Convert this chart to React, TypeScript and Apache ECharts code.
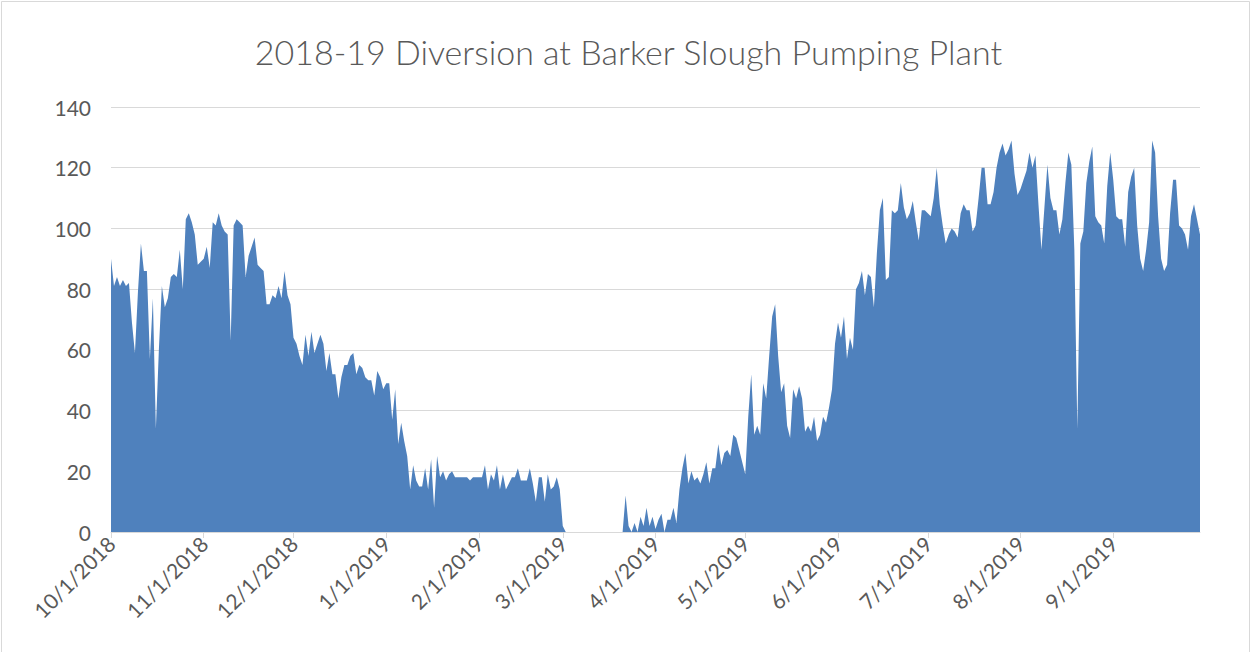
import React, { useEffect, useRef } from "react";
import * as echarts from "echarts";

const title = "2018-19 Diversion at Barker Slough Pumping Plant";

// Daily diversion values, one array per month
const oct2018 = [90, 81, 84, 81, 83, 81, 82, 69, 59, 79, 95, 86, 86, 57, 77, 34, 60, 81, 74, 77, 84, 85, 84, 93, 80, 103, 105, 102, 98, 88, 89];
const nov2018 = [90, 94, 87, 102, 101, 105, 101, 99, 98, 63, 101, 103, 102, 101, 84, 91, 94, 97, 88, 87, 86, 75, 75, 78, 77, 81, 77, 86, 78, 75];
const dec2018 = [64, 62, 58, 55, 65, 58, 66, 59, 62, 65, 62, 53, 59, 52, 52, 44, 51, 55, 55, 58, 59, 52, 55, 54, 51, 50, 50, 45, 53, 51, 47];
const jan2019 = [49, 49, 37, 47, 29, 36, 30, 25, 14, 22, 17, 15, 15, 21, 14, 24, 8, 25, 18, 20, 17, 19, 20, 18, 18, 18, 18, 18, 17, 18, 18];
const feb2019 = [18, 18, 22, 14, 19, 17, 22, 14, 19, 14, 16, 18, 18, 21, 17, 17, 17, 21, 16, 10, 18, 18, 10, 19, 14, 15, 18, 14];
const mar2019 = [2, 0, 0, 0, 0, 0, 0, 0, 0, 0, 0, 0, 0, 0, 0, 0, 0, 0, 0, 0, 0, 12, 2, 0, 3, 0, 5, 2, 8, 2, 5];
const apr2019 = [1, 4, 6, 0, 4, 4, 8, 3, 14, 21, 26, 16, 20, 17, 18, 16, 19, 23, 16, 21, 21, 29, 22, 26, 27, 25, 32, 31, 27, 23];
const may2019 = [19, 38, 52, 32, 35, 32, 49, 44, 58, 71, 75, 58, 46, 49, 35, 31, 47, 44, 48, 44, 33, 35, 33, 38, 30, 32, 38, 36, 41, 47, 62];
const jun2019 = [69, 64, 71, 57, 64, 60, 80, 82, 86, 78, 85, 84, 74, 92, 106, 110, 83, 84, 106, 105, 106, 115, 107, 103, 105, 109, 102, 96, 106, 106];
const jul2019 = [105, 104, 110, 120, 108, 101, 95, 98, 100, 99, 97, 105, 108, 106, 106, 99, 101, 110, 120, 120, 108, 108, 112, 120, 125, 128, 124, 126, 129, 118, 111];
const aug2019 = [113, 116, 119, 125, 120, 124, 108, 93, 107, 121, 110, 106, 106, 98, 103, 115, 125, 121, 93, 34, 95, 99, 115, 122, 127, 104, 102, 101, 95, 114, 125];
const sep2019 = [116, 104, 103, 103, 94, 112, 117, 120, 101, 90, 86, 93, 102, 129, 125, 104, 90, 86, 88, 105, 116, 116, 101, 100, 98, 93, 104, 108, 103, 98];

const yMin = 0;
const yMax = 140;
const yStep = 20;

const values = [
  ...oct2018, ...nov2018, ...dec2018, ...jan2019, ...feb2019, ...mar2019,
  ...apr2019, ...may2019, ...jun2019, ...jul2019, ...aug2019, ...sep2019,
];

const categories: string[] = [];
for (let i = 0; i < values.length; i++) {
  const d = new Date(2018, 9, 1 + i);
  categories.push(`${d.getMonth() + 1}/${d.getDate()}/${d.getFullYear()}`);
}

const isMonthStart = (_i: number, v: string) => v.split("/")[1] === "1";

export default function App() {
  const ref = useRef<HTMLDivElement>(null);
  useEffect(() => {
    document.body.style.margin = "0";
    const chart = echarts.init(ref.current!, null, { renderer: "svg" });
    const font = "Lato, 'Open Sans', sans-serif";
    chart.setOption({
      animation: false,
      backgroundColor: "#ffffff",
      title: {
        text: title,
        left: "center",
        top: 29,
        textStyle: { fontFamily: font, fontSize: 34, fontWeight: 300, color: "#595959" },
      },
      grid: { left: 111, right: 57, top: 107, bottom: 120, containLabel: false },
      xAxis: {
        type: "category",
        data: categories,
        boundaryGap: false,
        axisLine: { show: true, lineStyle: { color: "#d9d9d9", width: 1 } },
        axisTick: { show: true, interval: isMonthStart, length: 6, lineStyle: { color: "#d9d9d9" } },
        axisLabel: {
          interval: isMonthStart,
          rotate: 45,
          margin: 8,
          fontFamily: font,
          fontSize: 21,
          color: "#595959",
        },
        splitLine: { show: false },
      },
      yAxis: {
        type: "value",
        min: yMin,
        max: yMax,
        interval: yStep,
        axisLine: { show: false },
        axisTick: { show: false },
        axisLabel: { fontFamily: font, fontSize: 21, color: "#595959", margin: 20 },
        splitLine: { lineStyle: { color: "#d9d9d9", width: 1 } },
      },
      series: [
        {
          type: "line",
          data: values,
          symbol: "none",
          smooth: false,
          lineStyle: { width: 0 },
          areaStyle: { color: "#4f81bd", opacity: 1 },
          itemStyle: { color: "#4f81bd" },
        },
      ],
      graphic: [
        {
          type: "rect",
          shape: { x: 1.5, y: 1.5, width: 1248, height: 660 },
          style: { fill: "none", stroke: "#d9d9d9", lineWidth: 1 },
          silent: true,
        },
      ],
    });
    return () => chart.dispose();
  }, []);
  return <div ref={ref} style={{ width: 1257, height: 652 }} />;
}
